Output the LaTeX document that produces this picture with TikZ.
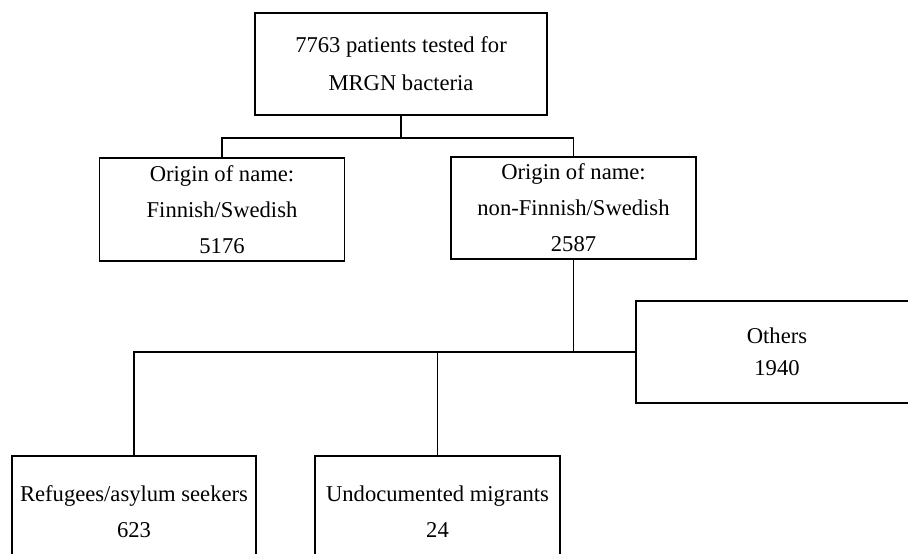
\documentclass[tikz,border=0pt]{standalone}
\usepackage{fontspec}
\setmainfont{Liberation Serif}
\usepackage{tikz}
\tikzstyle{block} = [rectangle, draw, line width=0.9pt,
    text centered, align=center, font=\fontsize{11.3}{18}\selectfont]
\tikzstyle{link} = [line width=0.9pt]
\usetikzlibrary{calc}
\usetikzlibrary{positioning}

\begin{document}
\begin{tikzpicture}[x=0.5pt,y=-0.5pt]
    \clip (0,0) rectangle (908,553);
    \fill[white] (0,0) rectangle (908,553);

    \node[block,minimum width=146pt,minimum height=51pt] (tested) at (401,64) {7763 patients tested for\\[1pt] MRGN bacteria};

    \node[block,minimum width=122.5pt,minimum height=51.5pt] (finnish) at (222,209.5) {Origin of name:\\ Finnish/Swedish\\ 5176};
    \node[block,minimum width=122.5pt,minimum height=51pt] (nonfinnish) at (573.5,208) {Origin of name:\\ non-Finnish/Swedish\\ 2587};

    \node[block,minimum width=141pt,minimum height=51pt] (others) at (777,352) {Others\\[-2pt] 1940};

    \node[block,minimum width=122pt,minimum height=56pt] (refugees) at (134,512) {Refugees/asylum seekers\\ 623};
    \node[block,minimum width=122.5pt,minimum height=56pt] (undoc) at (437.5,512) {Undocumented migrants\\ 24};

    % split below the first box
    \coordinate (split) at ($(tested.south)+(0,22)$);
    \draw[link,line width=1.3pt] (tested.south) -- (split);
    \draw[link] (finnish.north) |- (split) -| (nonfinnish.north);

    % split below the second box
    \coordinate (branch) at (nonfinnish.south |- others.west);
    \draw[link] (nonfinnish.south) -- (branch);
    \draw[link] (others.west) -| (refugees.north);
    \draw[link] (undoc.north) -- (undoc.north |- others.west);
  \end{tikzpicture}
\end{document}
